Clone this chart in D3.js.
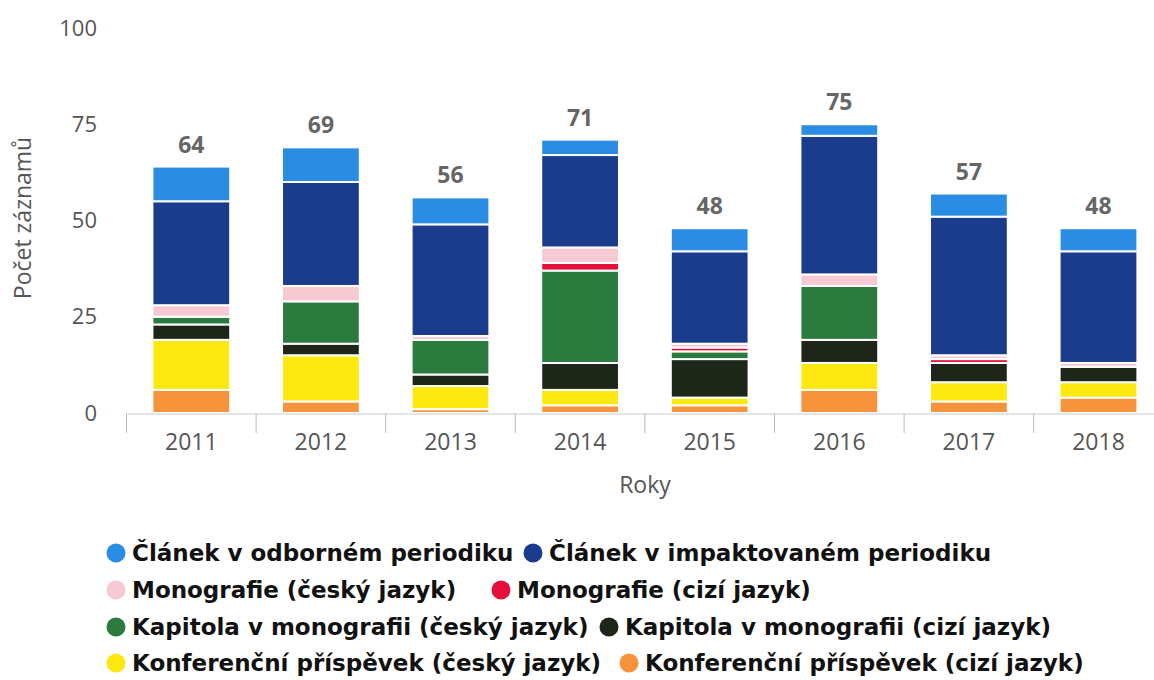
<!DOCTYPE html>
<html lang="cs">
<head>
<meta charset="UTF-8">
<title>Počet záznamů podle roků</title>
<script src="https://d3js.org/d3.v7.min.js"></script>
<style>
  body { margin: 0; background: #fff; }
  svg text { font-family: "Open Sans", sans-serif; }
  svg .legenda text { font-family: "DejaVu Sans", sans-serif; }
</style>
</head>
<body>
<svg width="1154" height="680"></svg>
<script>
// data
var roky = ["2011", "2012", "2013", "2014", "2015", "2016", "2017", "2018"];

var clanekOdborne   = [9, 9, 7, 4, 6, 3, 6, 6];
var clanekImpakt    = [27, 27, 29, 24, 24, 36, 36, 29];
var monografieCz    = [3, 4, 1, 4, 1, 3, 1, 1];
var monografieCizi  = [0, 0, 0, 2, 1, 0, 1, 0];
var kapitolaCz      = [2, 11, 9, 24, 2, 14, 0, 0];
var kapitolaCizi    = [4, 3, 3, 7, 10, 6, 5, 4];
var konferenceCz    = [13, 12, 6, 4, 2, 7, 5, 4];
var konferenceCizi  = [6, 3, 1, 2, 2, 6, 3, 4];

var yTicks = [0, 25, 50, 75, 100];

// legend order (first one sits on top of the stack)
var serie = [
  {nazev: "Článek v odborném periodiku", hodnoty: clanekOdborne, barva: "#2b8ce3"},
  {nazev: "Článek v impaktovaném periodiku", hodnoty: clanekImpakt, barva: "#1b3c8c"},
  {nazev: "Monografie (český jazyk)", hodnoty: monografieCz, barva: "#f7c9d2"},
  {nazev: "Monografie (cizí jazyk)", hodnoty: monografieCizi, barva: "#e3103c"},
  {nazev: "Kapitola v monografii (český jazyk)", hodnoty: kapitolaCz, barva: "#2b7b3f"},
  {nazev: "Kapitola v monografii (cizí jazyk)", hodnoty: kapitolaCizi, barva: "#1e2619"},
  {nazev: "Konferenční příspěvek (český jazyk)", hodnoty: konferenceCz, barva: "#fde80f"},
  {nazev: "Konferenční příspěvek (cizí jazyk)", hodnoty: konferenceCizi, barva: "#f7933a"}
];

var svg = d3.select("svg");

// table for d3.stack
var tabulka = roky.map(function(r, i) {
  var row = {rok: r};
  serie.forEach(function(s) { row[s.nazev] = s.hodnoty[i]; });
  return row;
});

var klice = serie.map(function(s) { return s.nazev; }).reverse(); // bottom -> top
var barva = d3.scaleOrdinal().domain(serie.map(function(s){ return s.nazev; }))
  .range(serie.map(function(s){ return s.barva; }));

var stack = d3.stack().keys(klice)(tabulka);

var x = d3.scaleBand().domain(roky).range([126.5, 1163.3])
  .paddingInner(0.4).paddingOuter(0.2);
var y = d3.scaleLinear().domain([0, 100]).range([413, 28]);

// y axis labels only
svg.append("g")
  .attr("transform", "translate(126,0)")
  .call(d3.axisLeft(y).tickValues(yTicks).tickSize(0).tickPadding(29))
  .call(function(g) { g.select(".domain").remove(); })
  .selectAll("text")
  .attr("font-size", "22px")
  .attr("fill", "#555");

// stacked columns
svg.append("g")
  .selectAll("g")
  .data(stack)
  .join("g")
  .attr("fill", function(d) { return barva(d.key); })
  .selectAll("rect")
  .data(function(d) { return d; })
  .join("rect")
  .attr("x", function(d) { return x(d.data.rok); })
  .attr("width", x.bandwidth())
  .attr("y", function(d) { return y(d[1]); })
  .attr("height", function(d) { return y(d[0]) - y(d[1]); })
  .attr("stroke", "#fff")
  .attr("stroke-width", 2);

// x axis
var osaX = svg.append("g")
  .attr("transform", "translate(0,413.5)")
  .call(d3.axisBottom(x).tickSize(0).tickPadding(20));
osaX.select(".domain").attr("stroke", "#c8ccd4");
osaX.selectAll("text").attr("font-size", "23px").attr("fill", "#555");

// category boundary ticks
var hranice = roky.map(function(r) { return x(r) + x.bandwidth() / 2 - x.step() / 2; });
hranice.push(hranice[hranice.length - 1] + x.step());
svg.append("g").selectAll("line")
  .data(hranice)
  .join("line")
  .attr("x1", function(d) { return d; })
  .attr("x2", function(d) { return d; })
  .attr("y1", 413.5)
  .attr("y2", 433)
  .attr("stroke", "#b8bcc4")
  .attr("stroke-width", 1);

// totals above the columns
svg.append("g").selectAll("text")
  .data(tabulka)
  .join("text")
  .attr("x", function(d) { return x(d.rok) + x.bandwidth() / 2; })
  .attr("y", function(d) { return y(d3.sum(klice, function(k) { return d[k]; })) - 14; })
  .attr("text-anchor", "middle")
  .attr("font-size", "23px")
  .attr("font-weight", "bold")
  .attr("fill", "#666")
  .text(function(d) { return d3.sum(klice, function(k) { return d[k]; }); });

// axis titles
svg.append("text")
  .attr("x", 645)
  .attr("y", 493)
  .attr("text-anchor", "middle")
  .attr("font-size", "23px")
  .attr("fill", "#555")
  .text("Roky");

svg.append("text")
  .attr("transform", "translate(31,218) rotate(-90)")
  .attr("text-anchor", "middle")
  .attr("font-size", "23px")
  .attr("fill", "#555")
  .text("Počet záznamů");

// legend, two items per row; second column starts where the original had it
var radkyY = [553, 590, 627, 663];
var sloupec2X = [533, 501, 609, 629];
var legenda = svg.append("g").attr("class", "legenda");
for (var r = 0; r < 4; r++) {
  for (var c = 0; c < 2; c++) {
    var s = serie[r * 2 + c];
    var xPos = c == 0 ? 116 : sloupec2X[r];
    legenda.append("circle")
      .attr("cx", xPos)
      .attr("cy", radkyY[r])
      .attr("r", 9.5)
      .attr("fill", s.barva);
    legenda.append("text")
      .attr("x", xPos + 16)
      .attr("y", radkyY[r])
      .attr("dy", "0.36em")
      .attr("font-size", "23px")
      .attr("font-weight", "bold")
      .attr("fill", "#111")
      .text(s.nazev);
  }
}
</script>
</body>
</html>
